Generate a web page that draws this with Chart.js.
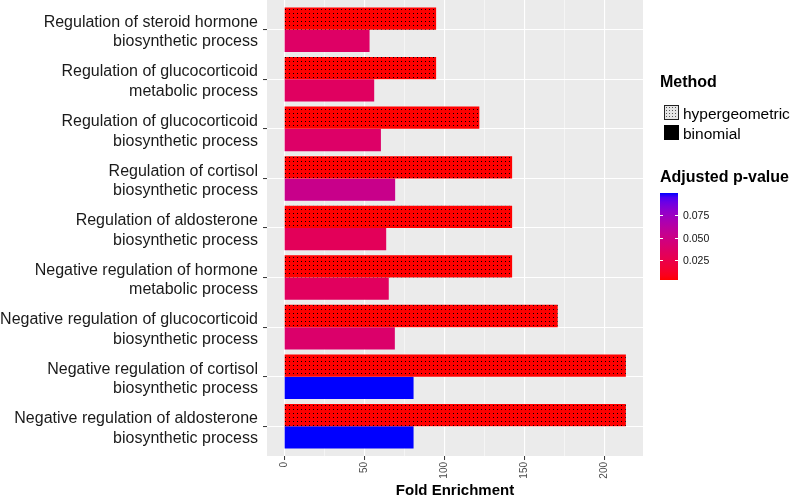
<!DOCTYPE html>
<html>
<head>
<meta charset="utf-8">
<script src="https://cdn.jsdelivr.net/npm/chart.js@4.4.1/dist/chart.umd.min.js"></script>
<style>
  body { margin: 0; background: #fff; font-family: "Liberation Sans", Arial, sans-serif; }
  #wrap { position: relative; width: 794px; height: 498px; overflow: hidden; }
  #chartBox { position: absolute; left: 0; top: 0; width: 794px; height: 498px; }
  .lg { position: absolute; color: #000; white-space: nowrap; line-height: 1; }
  .lgTitle { font-weight: bold; font-size: 16px; }
  .lgText { font-size: 15.5px; }
  .key { position: absolute; width: 15px; height: 15px; box-sizing: border-box; }
  #keyHyper { background-color: #e6e6e6; border: 1px solid #222;
    background-image: radial-gradient(circle, #555 0.7px, transparent 0.9px); background-size: 3px 3px; }
  #keyBinom { background: #000; }
  #cbar { position: absolute; width: 18px; height: 87px; }
  .cbTick { position: absolute; height: 1px; width: 3px; background: #fff; }
  .cbLab { position: absolute; font-size: 10.5px; color: #111; line-height: 1; }
</style>
</head>
<body>
<div id="wrap">
  <div id="chartBox"><canvas id="goChart"></canvas></div>

  <div class="lg lgTitle" style="left:660px; top:74px;">Method</div>
  <div class="key" id="keyHyper" style="left:664px; top:105px;"></div>
  <div class="lg lgText" style="left:683px; top:106px;">hypergeometric</div>
  <div class="key" id="keyBinom" style="left:664px; top:125px;"></div>
  <div class="lg lgText" style="left:683px; top:126px;">binomial</div>

  <div class="lg lgTitle" style="left:660px; top:169px;">Adjusted p-value</div>
  <div id="cbar" style="left:660px; top:193px;"></div>
  <div id="cbLabels"></div>
</div>

<script>
// danh mục GO (2 dòng mỗi nhãn)
const categories = [
  ["Regulation of steroid hormone", "biosynthetic process"],
  ["Regulation of glucocorticoid", "metabolic process"],
  ["Regulation of glucocorticoid", "biosynthetic process"],
  ["Regulation of cortisol", "biosynthetic process"],
  ["Regulation of aldosterone", "biosynthetic process"],
  ["Negative regulation of hormone", "metabolic process"],
  ["Negative regulation of glucocorticoid", "biosynthetic process"],
  ["Negative regulation of cortisol", "biosynthetic process"],
  ["Negative regulation of aldosterone", "biosynthetic process"]
];
const methods = ["hypergeometric", "binomial"];

const hyperFold = [95, 95, 122, 142.5, 142.5, 142.5, 171, 213.6, 213.6];
const binomFold = [53.4, 56.3, 60.5, 69.4, 63.8, 65.4, 69.2, 80.9, 80.9];

const hyperP = [0.0025, 0.0025, 0.0025, 0.0025, 0.0025, 0.0025, 0.0025, 0.0025, 0.0025];
const binomP = [0.036, 0.034, 0.037, 0.052, 0.031, 0.033, 0.038, 0.1, 0.1];

const xTicks = [0, 50, 100, 150, 200];
const pTicks = [0.025, 0.050, 0.075];
const pLabels = ["0.025", "0.050", "0.075"];

const pMin = 0.0025, pMax = 0.1;

// --- gradient đỏ -> xanh trong không gian Lab (giống ggplot)
function toLin(c) { c /= 255; return c <= 0.04045 ? c / 12.92 : Math.pow((c + 0.055) / 1.055, 2.4); }
function fromLin(c) {
  const v = c <= 0.0031308 ? 12.92 * c : 1.055 * Math.pow(c, 1 / 2.4) - 0.055;
  return Math.round(Math.max(0, Math.min(1, v)) * 255);
}
function rgbToLab(rgb) {
  const r = toLin(rgb[0]), g = toLin(rgb[1]), b = toLin(rgb[2]);
  const X = (0.4124 * r + 0.3576 * g + 0.1805 * b) / 0.95047;
  const Y = 0.2126 * r + 0.7152 * g + 0.0722 * b;
  const Z = (0.0193 * r + 0.1192 * g + 0.9505 * b) / 1.08883;
  const f = t => t > 0.008856 ? Math.cbrt(t) : 7.787 * t + 16 / 116;
  const fx = f(X), fy = f(Y), fz = f(Z);
  return [116 * fy - 16, 500 * (fx - fy), 200 * (fy - fz)];
}
function labToRgb(lab) {
  const fy = (lab[0] + 16) / 116, fx = fy + lab[1] / 500, fz = fy - lab[2] / 200;
  const inv = t => t * t * t > 0.008856 ? t * t * t : (t - 16 / 116) / 7.787;
  const X = inv(fx) * 0.95047, Y = inv(fy), Z = inv(fz) * 1.08883;
  const r = 3.2406 * X - 1.5372 * Y - 0.4986 * Z;
  const g = -0.9689 * X + 1.8758 * Y + 0.0415 * Z;
  const b = 0.0557 * X - 0.2040 * Y + 1.0570 * Z;
  return [fromLin(r), fromLin(g), fromLin(b)];
}
const labLow = rgbToLab([255, 0, 0]);
const labHigh = rgbToLab([0, 0, 255]);
function pColor(p) {
  const t = Math.max(0, Math.min(1, (p - pMin) / (pMax - pMin)));
  const lab = labLow.map((v, i) => v + (labHigh[i] - v) * t);
  const c = labToRgb(lab);
  return `rgb(${c[0]},${c[1]},${c[2]})`;
}

// --- pattern chấm đen trên nền màu
function dotPattern(color) {
  const c = document.createElement("canvas");
  c.width = 4; c.height = 4;
  const g = c.getContext("2d");
  g.fillStyle = color;
  g.fillRect(0, 0, 4, 4);
  g.fillStyle = "#000";
  g.fillRect(1, 1, 1, 1);
  return g.createPattern(c, "repeat");
}

// --- colorbar
(function buildColorbar() {
  const stops = [];
  for (let i = 0; i <= 20; i++) {
    const p = pMax - (pMax - pMin) * i / 20;
    stops.push(`${pColor(p)} ${i * 5}%`);
  }
  const bar = document.getElementById("cbar");
  bar.style.background = `linear-gradient(to bottom, ${stops.join(",")})`;
  const labBox = document.getElementById("cbLabels");
  const top = 193, h = 87, left = 660;
  pTicks.forEach((v, i) => {
    const y = top + h * (1 - (v - pMin) / (pMax - pMin));
    labBox.insertAdjacentHTML("beforeend",
      `<div class="cbTick" style="left:${left}px; top:${y.toFixed(1)}px"></div>` +
      `<div class="cbTick" style="left:${left + 15}px; top:${y.toFixed(1)}px"></div>` +
      `<div class="cbLab" style="left:683px; top:${(y - 5).toFixed(1)}px">${pLabels[i]}</div>`);
  });
})();

Chart.defaults.font.family = '"Liberation Sans", Arial, sans-serif';

const panelBg = {
  id: "panelBg",
  beforeDraw(chart) {
    const { ctx, chartArea } = chart;
    ctx.save();
    ctx.fillStyle = "#EBEBEB";
    ctx.fillRect(chartArea.left, chartArea.top, chartArea.right - chartArea.left, chartArea.bottom - chartArea.top);
    ctx.restore();
  }
};

const ctx = document.getElementById("goChart").getContext("2d");
new Chart(ctx, {
  type: "bar",
  data: {
    datasets: [
      {
        label: methods[0],
        data: hyperFold.map((v, i) => ({ x: v, y: i })),
        backgroundColor: hyperP.map(p => dotPattern(pColor(p))),
        borderWidth: 0,
        categoryPercentage: 0.9,
        barPercentage: 1.0
      },
      {
        label: methods[1],
        data: binomFold.map((v, i) => ({ x: v, y: i })),
        backgroundColor: binomP.map(p => pColor(p)),
        borderWidth: 0,
        categoryPercentage: 0.9,
        barPercentage: 1.0
      }
    ]
  },
  options: {
    indexAxis: "y",
    responsive: true,
    maintainAspectRatio: false,
    animation: false,
    layout: { padding: { left: 0, right: 151, top: 0, bottom: 0 } },
    plugins: { legend: { display: false }, tooltip: { enabled: false } },
    scales: {
      y: {
        type: "linear",
        reverse: true,
        offset: false,
        min: -0.6,
        max: categories.length - 1 + 0.6,
        afterFit(scale) {
          scale.width = 267;
          scale.paddingTop = 0;
          scale.paddingBottom = 0;
        },
        border: { display: false },
        grid: {
          offset: false,
          color: "#FFFFFF",
          lineWidth: 1.1,
          tickColor: "#333333",
          tickLength: 4,
          tickWidth: 1
        },
        ticks: {
          stepSize: 1,
          includeBounds: false,
          autoSkip: false,
          padding: 5,
          labelOffset: 2.5,
          color: "#1a1a1a",
          font: { size: 16, lineHeight: 1.22 },
          callback: v => categories[v] || ""
        }
      },
      x: {
        type: "linear",
        min: -10.7,
        max: 224.3,
        afterFit(scale) {
          scale.height = 42;
          scale.paddingLeft = 0;
          scale.paddingRight = 0;
        },
        border: { display: false },
        grid: {
          color: "#FFFFFF",
          lineWidth: c => (c.tick && c.tick.value % 50 === 0) ? 1.1 : 0.5,
          tickColor: c => (c.tick && c.tick.value % 50 === 0) ? "#333333" : "rgba(0,0,0,0)",
          tickLength: 4,
          tickWidth: 1
        },
        ticks: {
          stepSize: 25,
          includeBounds: false,
          autoSkip: false,
          minRotation: 90,
          maxRotation: 90,
          padding: 2,
          color: "#4D4D4D",
          font: { size: 10 },
          callback: v => xTicks.includes(v) ? String(v) : ""
        },
        title: {
          display: true,
          text: "Fold Enrichment",
          color: "#000",
          font: { size: 15, weight: "bold" },
          padding: { top: 0, bottom: -2 }
        }
      }
    }
  },
  plugins: [panelBg]
});
</script>
</body>
</html>
